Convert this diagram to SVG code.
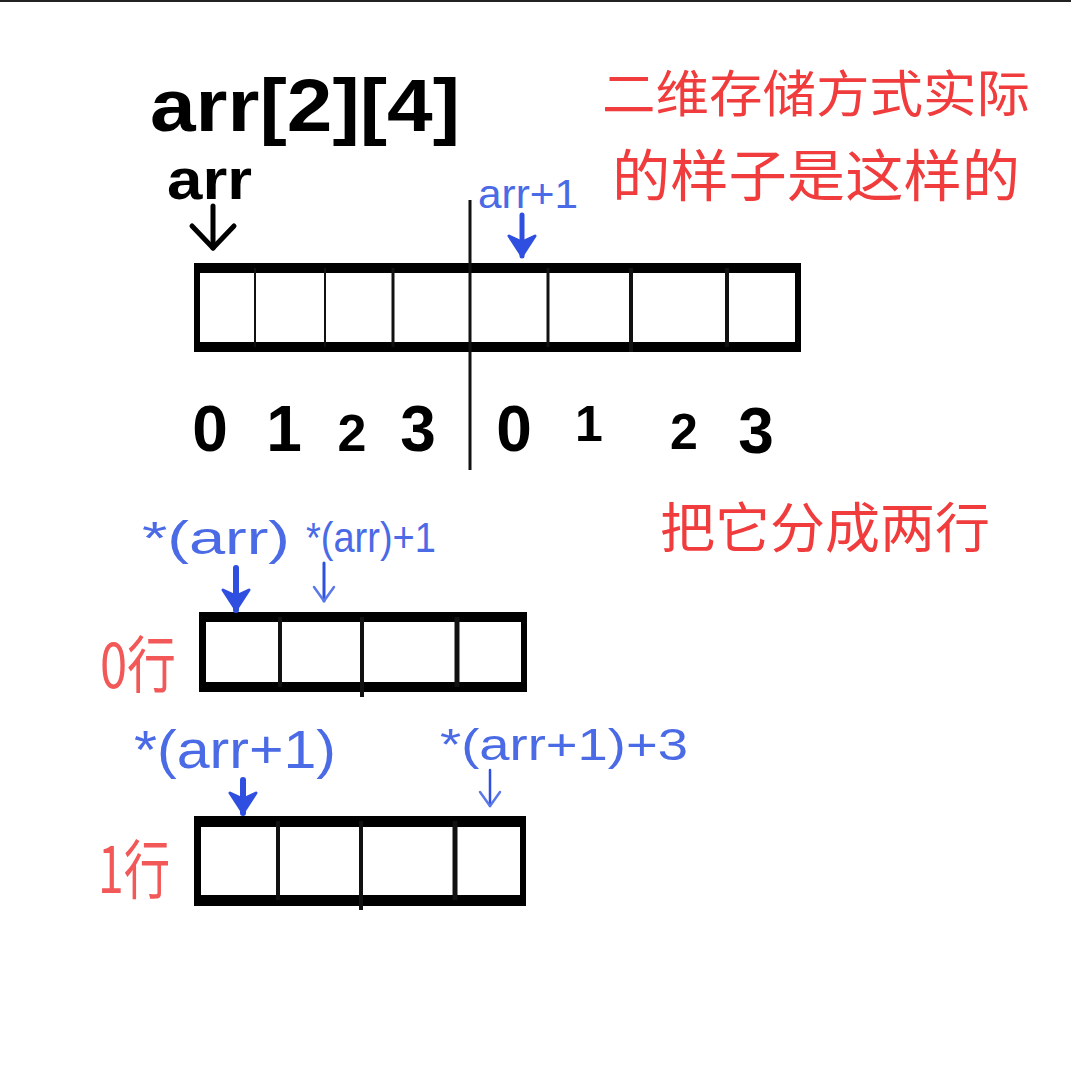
<svg xmlns="http://www.w3.org/2000/svg" width="1071" height="1072" viewBox="0 0 1071 1072">
<style>
.lat{font-family:"Liberation Sans","DejaVu Sans",sans-serif}
.cjk{font-family:"Noto Sans CJK SC","Liberation Sans",sans-serif;fill:#f03c3c}
.blk{fill:#000}
.blue{fill:#4a6ae6}
.bar{fill:#000}
.div{stroke:#111;fill:none}
.arrK{stroke:#000;stroke-width:5;fill:none;stroke-linecap:round}
.arrB{stroke:#2f4fe0;fill:none;stroke-linecap:round}
</style>
<defs>
<marker id="hK" markerUnits="userSpaceOnUse" viewBox="-30 -28 36 56" markerWidth="36" markerHeight="56" refX="0" refY="0" orient="auto">
<path d="M-22,-21 L0,0 L-22,21" stroke="#000" stroke-width="5" fill="none" stroke-linecap="round" stroke-linejoin="round"/>
</marker>
<marker id="hB" markerUnits="userSpaceOnUse" viewBox="-26 -18 30 36" markerWidth="30" markerHeight="36" refX="0" refY="0" orient="auto">
<path d="M-20,-13 L0,0 L-20,13 L-14,0 Z" fill="#2f4fe0" stroke="#2f4fe0" stroke-width="3" stroke-linejoin="round"/>
</marker>
<marker id="hBt" markerUnits="userSpaceOnUse" viewBox="-20 -14 24 28" markerWidth="24" markerHeight="28" refX="0" refY="0" orient="auto">
<path d="M-14,-10 L0,0 L-14,10" fill="none" stroke="#5a78e8" stroke-width="2.5" stroke-linecap="round" stroke-linejoin="round"/>
</marker>
</defs>
<rect width="1071" height="1072" fill="#fff"/>
<rect x="0" y="0" width="1071" height="2" fill="#222"/>

<g id="title">
<text class="lat blk" x="150" y="131" font-size="74" font-weight="bold" textLength="310" lengthAdjust="spacingAndGlyphs">arr[2][4]</text>
</g>

<g id="note-top">
<text class="cjk" x="602" y="112" font-size="50" textLength="428" lengthAdjust="spacingAndGlyphs">二维存储方式实际</text>
<text class="cjk" x="612" y="196" font-size="56" textLength="408" lengthAdjust="spacingAndGlyphs">的样子是这样的</text>
</g>

<g id="label-arr">
<text class="lat blk" x="167" y="199" font-size="58" font-weight="bold" textLength="85" lengthAdjust="spacingAndGlyphs">arr</text>
</g>
<g id="label-arr1">
<text class="lat blue" x="478" y="208" font-size="40" textLength="100" lengthAdjust="spacingAndGlyphs">arr+1</text>
</g>

<g id="array-flat">
<rect x="196" y="263" width="604" height="89" fill="#fff"/>
<rect class="bar" x="196" y="263" width="604" height="10"/>
<rect class="bar" x="196" y="342" width="602" height="10"/>
<rect class="bar" x="194" y="263" width="6" height="89"/>
<rect class="bar" x="795" y="263" width="6" height="89"/>
<line class="div" x1="255" y1="268" x2="255" y2="347" stroke="#999" stroke-width="2"/>
<line class="div" x1="325" y1="268" x2="325" y2="347" stroke="#777" stroke-width="2"/>
<line class="div" x1="393" y1="268" x2="393" y2="347" stroke-width="3"/>
<line class="div" x1="548" y1="268" x2="548" y2="347" stroke-width="3"/>
<line class="div" x1="631" y1="268" x2="631" y2="352" stroke-width="4"/>
<line class="div" x1="727" y1="268" x2="727" y2="347" stroke-width="4"/>
</g>

<g id="separator">
<line x1="470" y1="200" x2="470" y2="470" stroke="#111" stroke-width="3"/>
</g>

<g id="indices">
<text class="lat blk" font-size="64" font-weight="bold" text-anchor="middle" y="451">
<tspan x="210">0</tspan><tspan x="284">1</tspan><tspan x="352" font-size="52">2</tspan><tspan x="418">3</tspan><tspan x="514">0</tspan><tspan x="589" font-size="50" dy="-10">1</tspan><tspan x="684" font-size="50" dy="8">2</tspan><tspan x="756" dy="4">3</tspan>
</text>
</g>

<g id="note-split">
<text class="cjk" x="660" y="548" font-size="54" textLength="330" lengthAdjust="spacingAndGlyphs">把它分成两行</text>
</g>

<g id="label-star-arr">
<text class="lat blue" x="142" y="554" font-size="46" textLength="148" lengthAdjust="spacingAndGlyphs">*(arr)</text>
</g>
<g id="label-star-arr-1">
<text class="lat blue" x="306" y="552" font-size="42" textLength="130" lengthAdjust="spacingAndGlyphs">*(arr)+1</text>
</g>

<g id="row0">
<text class="cjk" x="100" y="688" font-size="62" textLength="76" lengthAdjust="spacingAndGlyphs" opacity="0.85">0行</text>
<rect x="201" y="612" width="326" height="80" fill="#fff"/>
<rect class="bar" x="201" y="612" width="326" height="10"/>
<rect class="bar" x="201" y="682" width="324" height="10"/>
<rect class="bar" x="199" y="612" width="7" height="80"/>
<rect class="bar" x="521" y="612" width="6" height="80"/>
<line class="div" x1="280" y1="617" x2="280" y2="687" stroke-width="4"/>
<line class="div" x1="362" y1="617" x2="362" y2="697" stroke-width="4"/>
<line class="div" x1="457" y1="617" x2="457" y2="687" stroke-width="5"/>
</g>

<g id="label-star-arr1">
<text class="lat blue" x="134" y="768" font-size="54" textLength="202" lengthAdjust="spacingAndGlyphs">*(arr+1)</text>
</g>
<g id="label-star-arr1-3">
<text class="lat blue" x="440" y="760" font-size="44" textLength="248" lengthAdjust="spacingAndGlyphs">*(arr+1)+3</text>
</g>

<g id="row1">
<text class="cjk" x="98" y="893" font-size="64" textLength="72" lengthAdjust="spacingAndGlyphs" opacity="0.85">1行</text>
<rect x="196" y="816" width="330" height="90" fill="#fff"/>
<rect class="bar" x="196" y="816" width="330" height="11"/>
<rect class="bar" x="196" y="895" width="328" height="11"/>
<rect class="bar" x="194" y="816" width="7" height="90"/>
<rect class="bar" x="520" y="816" width="6" height="90"/>
<line class="div" x1="278" y1="821" x2="278" y2="900" stroke-width="4"/>
<line class="div" x1="361" y1="821" x2="361" y2="910" stroke-width="4"/>
<line class="div" x1="455" y1="821" x2="455" y2="900" stroke-width="5"/>
</g>

<g id="connectors">
<line class="arrK" x1="213" y1="206" x2="213" y2="248" marker-end="url(#hK)"/>
<line class="arrB" x1="522" y1="215" x2="522" y2="256" stroke-width="5" marker-end="url(#hB)"/>
<line class="arrB" x1="236" y1="568" x2="236" y2="610" stroke-width="6" marker-end="url(#hB)"/>
<line class="arrB" x1="324" y1="563" x2="324" y2="601" stroke-width="3" stroke="#4565e6" marker-end="url(#hBt)"/>
<line class="arrB" x1="243" y1="780" x2="243" y2="813" stroke-width="6" marker-end="url(#hB)"/>
<line class="arrB" x1="490" y1="770" x2="490" y2="806" stroke-width="2.5" stroke="#5a78e8" marker-end="url(#hBt)"/>
</g>
</svg>
